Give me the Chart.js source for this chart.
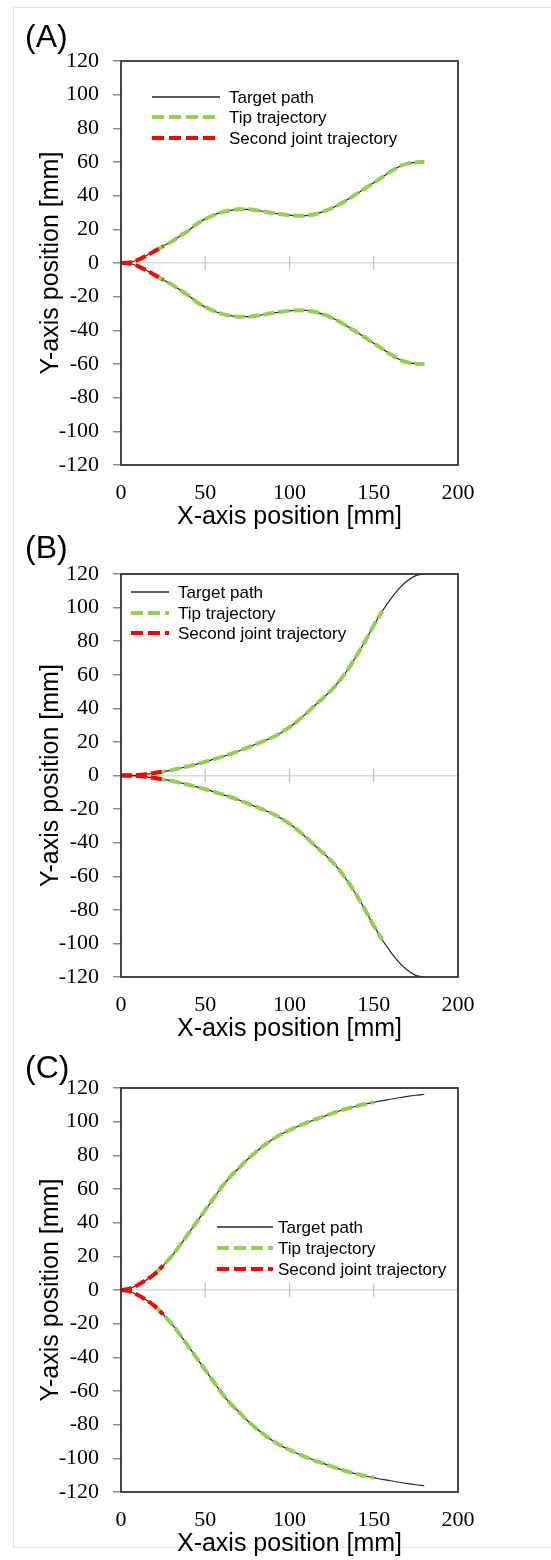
<!DOCTYPE html>
<html>
<head>
<meta charset="utf-8">
<script src="https://cdn.jsdelivr.net/npm/chart.js@4.4.1/dist/chart.umd.min.js"></script>
<style>
  body { margin: 0; background: #fff; width: 551px; height: 1560px; position: relative; overflow: hidden; }
  .frame { position: absolute; left: 13px; top: 7px; width: 600px; height: 1541px; border: 1px solid #e3e3e3; border-right: none; box-sizing: border-box; }
  .panel { position: absolute; left: 0; width: 551px; }
</style>
</head>
<body>
<div class="frame"></div>
<div class="panel" style="top:0px;height:532px"><canvas id="chartA"></canvas></div>
<div class="panel" style="top:520px;height:524px"><canvas id="chartB"></canvas></div>
<div class="panel" style="top:1040px;height:519px"><canvas id="chartC"></canvas></div>
<script>
// x positions [mm] shared by all three panels
const xPos = [0, 5, 10, 15, 20, 25, 30, 35, 40, 45, 50, 55, 60, 65, 70, 75, 80, 85, 90,
  95, 100, 105, 110, 115, 120, 125, 130, 135, 140, 145, 150, 155, 160, 165, 170, 175, 180];

// (A) path, upper and lower branch [mm]
const aUpper = [0, 0.3, 1.8, 4.3, 7.1, 10, 12.7, 16, 19.3, 23.2, 26.2, 28.5, 30.2, 31.3, 31.9,
  31.9, 31.4, 30.6, 29.7, 29, 28.4, 28, 28.2, 29, 30.5, 32.5, 35, 38, 41.2, 44.4, 47.6, 51,
  54.3, 57.2, 59, 59.8, 60];
const aLower = [0, -0.3, -1.8, -4.3, -7.1, -10, -12.7, -16, -19.3, -23.2, -26.2, -28.5, -30.2,
  -31.3, -31.9, -31.9, -31.4, -30.6, -29.7, -29, -28.4, -28, -28.2, -29, -30.5, -32.5, -35,
  -38, -41.2, -44.4, -47.6, -51, -54.3, -57.2, -59, -59.8, -60];

// (B)
const bUpper = [0, 0.1, 0.3, 0.8, 1.5, 2.3, 3.2, 4.3, 5.5, 6.8, 8.2, 9.7, 11.2, 12.8, 14.6,
  16.6, 18.6, 20.6, 22.8, 25.5, 28.8, 32.6, 37, 41.7, 46.2, 51, 56.8, 63.7, 71.6, 80.2, 89.5,
  97.8, 105, 111.3, 116, 119, 120];
const bLower = [0, -0.1, -0.3, -0.8, -1.5, -2.3, -3.2, -4.3, -5.5, -6.8, -8.2, -9.7, -11.2,
  -12.8, -14.6, -16.6, -18.6, -20.6, -22.8, -25.5, -28.8, -32.6, -37, -41.7, -46.2, -51,
  -56.8, -63.7, -71.6, -80.2, -89.5, -97.8, -105, -111.3, -116, -119, -120];

// (C)
const cUpper = [0, 0.8, 3, 6, 9.5, 14.5, 20, 26.5, 33.5, 40.5, 47.5, 54.5, 61.5, 67.5, 72.5,
  77.5, 82, 86, 89.5, 92.5, 95, 97.3, 99.3, 101.3, 103, 104.8, 106.5, 108, 109.3, 110.5,
  111.5, 112.5, 113.3, 114.2, 115, 115.7, 116.3];
const cLower = [0, -0.8, -3, -6, -9.5, -14.5, -20, -26.5, -33.5, -40.5, -47.5, -54.5, -61.5,
  -67.5, -72.5, -77.5, -82, -86, -89.5, -92.5, -95, -97.3, -99.3, -101.3, -103, -104.8,
  -106.5, -108, -109.3, -110.5, -111.5, -112.5, -113.3, -114.2, -115, -115.7, -116.3];

// which part of the path each trajectory covers (index ranges into xPos)
const tipRange = { A: [4, 37], B: [4, 32], C: [4, 31] };
const jointRange = { A: [0, 6], B: [0, 6], C: [0, 6] };

const xTicks = [0, 50, 100, 150, 200];
const yTicks = [-120, -100, -80, -60, -40, -20, 0, 20, 40, 60, 80, 100, 120];

const seriesNames = ['Target path', 'Tip trajectory', 'Second joint trajectory'];

const serif = 'Liberation Serif, Tinos, Times New Roman, serif';
const sans = 'Liberation Sans, Arimo, Arial, sans-serif';

const styles = [
  { color: '#262626', width: 1.2, dash: [], order: 3 },
  { color: '#92d050', width: 4, dash: [11, 4], order: 2 },
  { color: '#ff0000', width: 4, dash: [11, 4], order: 1 }
];

function pts(ys, range) {
  const out = [];
  for (let i = range[0]; i < range[1]; i++) out.push({ x: xPos[i], y: ys[i] });
  return out;
}

function makeDatasets(up, low, key) {
  const ranges = [[0, xPos.length], tipRange[key], jointRange[key]];
  const ds = [];
  seriesNames.forEach((name, k) => {
    [up, low].forEach((ys, b) => {
      ds.push({
        label: name,
        legendItem: b === 0,
        data: pts(ys, ranges[k]),
        borderColor: styles[k].color,
        borderWidth: styles[k].width,
        borderDash: styles[k].dash,
        order: styles[k].order,
        pointRadius: 0,
        cubicInterpolationMode: 'monotone',
        fill: false
      });
    });
  });
  return ds;
}

const decor = {
  id: 'decor',
  beforeDatasetsDraw(chart) {
    const { ctx, scales: { x, y } } = chart;
    const y0 = y.getPixelForValue(0);
    ctx.save();
    ctx.strokeStyle = '#bfbfbf';
    ctx.lineWidth = 1.2;
    xTicks.slice(1, -1).forEach(v => {
      const px = x.getPixelForValue(v);
      ctx.beginPath();
      ctx.moveTo(px, y0 - 7);
      ctx.lineTo(px, y0 + 7);
      ctx.stroke();
    });
    ctx.restore();
  },
  afterDatasetsDraw(chart) {
    const { ctx, chartArea: a } = chart;
    ctx.save();
    ctx.strokeStyle = '#333';
    ctx.lineWidth = 1.8;
    ctx.strokeRect(a.left, a.top, a.right - a.left, a.bottom - a.top);
    ctx.restore();
  },
  afterDraw(chart, args, opts) {
    const { ctx } = chart;
    ctx.save();
    ctx.fillStyle = '#000';
    ctx.font = '32px ' + sans;
    ctx.textBaseline = 'alphabetic';
    ctx.fillText(opts.tag, 25, opts.tagY);
    const lg = opts.legend;
    ctx.font = '17px ' + sans;
    ctx.textBaseline = 'middle';
    const items = chart.data.datasets.filter(d => d.legendItem);
    items.forEach((d, i) => {
      const yy = lg.rows[i];
      ctx.strokeStyle = d.borderColor;
      ctx.lineWidth = d.borderWidth === 4 ? 4 : 1.6;
      ctx.setLineDash(d.borderDash.length ? [12, 5] : []);
      ctx.beginPath();
      ctx.moveTo(lg.x0, yy);
      ctx.lineTo(lg.x1, yy);
      ctx.stroke();
      ctx.setLineDash([]);
      ctx.fillStyle = '#000';
      ctx.fillText(d.label, lg.tx, yy + 1);
    });
    ctx.restore();
  }
};

function makeChart(id, up, low, key, cfg) {
  new Chart(document.getElementById(id), {
    type: 'line',
    data: { datasets: makeDatasets(up, low, key) },
    plugins: [decor],
    options: {
      responsive: true,
      maintainAspectRatio: false,
      animation: false,
      events: [],
      layout: { padding: { top: cfg.padTop, right: 93, bottom: 0, left: 0 } },
      plugins: {
        legend: { display: false },
        tooltip: { enabled: false },
        decor: { tag: cfg.tag, tagY: cfg.tagY, legend: cfg.legend }
      },
      scales: {
        x: {
          type: 'linear', min: 0, max: 200,
          afterBuildTicks: s => { s.ticks = xTicks.map(v => ({ value: v })); },
          afterFit: s => { s.height = 67; },
          ticks: { color: '#000', padding: 15, font: { family: serif, size: 22 } },
          grid: { display: false, drawTicks: false },
          border: { display: false },
          title: {
            display: true, text: 'X-axis position [mm]', color: '#000',
            padding: { top: 0, bottom: 0 },
            font: { family: sans, size: 25 }
          }
        },
        y: {
          min: -120, max: 120,
          afterBuildTicks: s => { s.ticks = yTicks.map(v => ({ value: v })); },
          afterFit: s => { s.width = 121; },
          ticks: { color: '#000', padding: 14, font: { family: serif, size: 22 } },
          grid: {
            color: c => (c.tick && c.tick.value === 0 ? '#d9d9d9' : 'rgba(0,0,0,0)'),
            lineWidth: 1.5,
            tickColor: '#8c8c8c',
            tickLength: 8
          },
          border: { display: false },
          title: {
            display: true, text: 'Y-axis position [mm]', color: '#000',
            padding: { top: 36, bottom: 0 },
            font: { family: sans, size: 25 }
          }
        }
      }
    }
  });
}

makeChart('chartA', aUpper, aLower, 'A', {
  padTop: 61, tag: '(A)', tagY: 47,
  legend: { x0: 152, x1: 220, tx: 229, rows: [97, 117, 138] }
});
makeChart('chartB', bUpper, bLower, 'B', {
  padTop: 54, tag: '(B)', tagY: 38,
  legend: { x0: 131, x1: 169, tx: 178, rows: [72, 93, 113] }
});
makeChart('chartC', cUpper, cLower, 'C', {
  padTop: 48, tag: '(C)', tagY: 38,
  legend: { x0: 217, x1: 273, tx: 278, rows: [187, 208, 229] }
});
</script>
</body>
</html>
